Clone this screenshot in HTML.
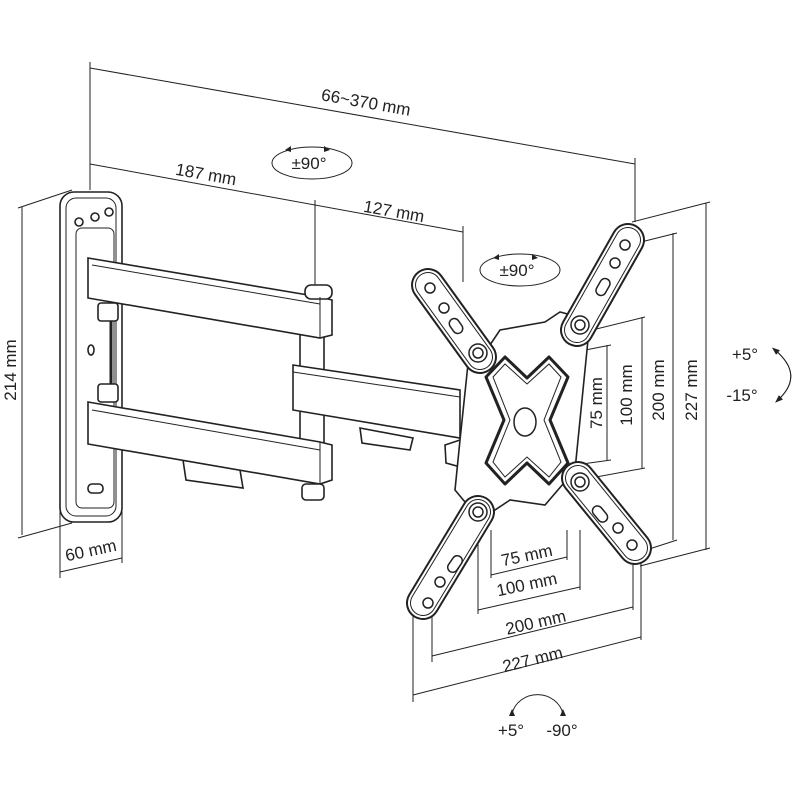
<!DOCTYPE html>
<html><head><meta charset="utf-8"><style>
html,body{margin:0;padding:0;background:#fff}
svg{display:block}
text{font-family:"Liberation Sans",sans-serif;fill:#222}
</style></head><body>
<svg width="800" height="800" viewBox="0 0 800 800" xmlns="http://www.w3.org/2000/svg">
<defs>
<marker id="ah" markerWidth="8" markerHeight="8" refX="4" refY="4" orient="auto"><path d="M0,1 L8,4 L0,7 Z" fill="#222"/></marker>
</defs>
<g stroke="#222" stroke-width="1" fill="none">
<line x1="90" y1="62" x2="90" y2="190"/>
<line x1="90" y1="68" x2="635" y2="164"/>
<line x1="635" y1="158" x2="635" y2="222"/>
<line x1="90" y1="164" x2="463" y2="232"/>
<line x1="315" y1="200" x2="315" y2="290"/>
<line x1="463" y1="226" x2="463" y2="282"/>
<line x1="22" y1="207" x2="22" y2="535"/>
<line x1="18" y1="208" x2="72" y2="190"/>
<line x1="18" y1="538" x2="72" y2="523"/>
<line x1="60" y1="510" x2="60" y2="578"/>
<line x1="122" y1="500" x2="122" y2="563"/>
<line x1="60" y1="572" x2="122" y2="558"/>
<line x1="706" y1="203" x2="706" y2="550"/>
<line x1="632" y1="222" x2="710" y2="202"/>
<line x1="640" y1="566" x2="710" y2="548"/>
<line x1="673" y1="233" x2="673" y2="540"/>
<line x1="637" y1="243" x2="677" y2="233"/>
<line x1="640" y1="552" x2="677" y2="540"/>
<line x1="642" y1="317" x2="642" y2="468"/>
<line x1="580" y1="333" x2="645" y2="317"/>
<line x1="580" y1="480" x2="645" y2="468"/>
<line x1="607" y1="345" x2="607" y2="460"/>
<line x1="575" y1="352" x2="611" y2="345"/>
<line x1="575" y1="465" x2="611" y2="460"/>
<line x1="491" y1="530" x2="491" y2="578"/><line x1="567" y1="530" x2="567" y2="560"/>
<line x1="491" y1="575" x2="567" y2="557"/>
<line x1="478" y1="525" x2="478" y2="614"/><line x1="580" y1="530" x2="580" y2="590"/>
<line x1="478" y1="610" x2="580" y2="587"/>
<line x1="432" y1="600" x2="432" y2="662"/><line x1="633" y1="560" x2="633" y2="610"/>
<line x1="432" y1="656" x2="633" y2="607"/>
<line x1="413" y1="595" x2="413" y2="702"/><line x1="641" y1="560" x2="641" y2="640"/>
<line x1="413" y1="695" x2="641" y2="637"/>
<ellipse cx="312" cy="163" rx="40" ry="16"/>
<ellipse cx="520" cy="270" rx="40" ry="16"/>
<path d="M775,350 Q805,375 778,400" marker-end="url(#ah)"/>
<path d="M778,400 Q805,375 775,350" marker-end="url(#ah)"/>
<path d="M512,714 A26,24 0 0 1 563,714" />
</g>
<g fill="#222">
<path d="M509,716 l3,-7 l3,7z"/><path d="M560,716 l3,-7 l3,7z"/>
<path d="M285,150 l6,-4 l0,6z"/><path d="M330,150 l-6,-4 l0,6z"/>
<path d="M493,258 l6,-4 l0,6z"/><path d="M538,258 l-6,-4 l0,6z"/>
</g>

<g stroke="#222" fill="#fff" stroke-width="1.6">
<rect x="60" y="192" width="62" height="330" rx="14"/>
<rect x="66" y="198" width="50" height="318" rx="10" stroke-width="1"/>
<rect x="76" y="228" width="38" height="280" rx="6" stroke-width="1"/>
<circle cx="79" cy="222" r="4"/><circle cx="95" cy="217" r="4"/><circle cx="109" cy="212" r="4"/>
<rect x="88" y="484" width="15" height="9" rx="4"/>
<line x1="111" y1="300" x2="111" y2="400" stroke-width="3"/>
<rect x="98" y="303" width="20" height="18" rx="3"/>
<rect x="98" y="384" width="20" height="18" rx="3"/>
<ellipse cx="91" cy="350" rx="3" ry="5"/>
<rect x="300" y="330" width="24" height="120"/>
<path d="M183,460 L240,470 L243,488 L186,480 Z"/>
<path d="M360,428 L413,438 L410,450 L362,443 Z"/>
<path d="M88,258 L320,297 L332,300 L332,335 L320,338 L88,298 Z"/>
<rect x="305" y="285" width="27" height="14" rx="6"/>
<line x1="92" y1="265" x2="320" y2="304" stroke-width="1"/>
<line x1="320" y1="297" x2="320" y2="338" stroke-width="1"/>
<path d="M88,402 L320,442 L332,445 L332,480 L320,484 L88,444 Z"/>
<line x1="92" y1="410" x2="320" y2="450" stroke-width="1"/>
<line x1="320" y1="442" x2="320" y2="484" stroke-width="1"/>
<rect x="302" y="484" width="22" height="16" rx="4"/>
<path d="M293,365 L460,390 L460,438 L293,410 Z"/>
<line x1="293" y1="372" x2="460" y2="397" stroke-width="1"/>
<path d="M445,445 l15,-5 l12,10 l-8,18 l-18,-5z"/>
</g>

<g stroke="#222" fill="#fff" stroke-linecap="round">
<path d="M470,345 L490,345 L500,330 L545,322 L560,312 L590,320 L575,470 L545,505 L510,500 L480,520 L455,490 L460,440 Z" stroke-width="1.6"/>
<g stroke-width="34"><line x1="428" y1="285" x2="480" y2="357"/><line x1="628" y1="240" x2="577" y2="330"/><line x1="635" y1="548" x2="578" y2="478"/><line x1="423" y1="603" x2="478" y2="512"/></g>
<g stroke-width="30" stroke="#fff"><line x1="428" y1="285" x2="480" y2="357"/><line x1="628" y1="240" x2="577" y2="330"/><line x1="635" y1="548" x2="578" y2="478"/><line x1="423" y1="603" x2="478" y2="512"/></g>
<g stroke-width="26" stroke="#222"><line x1="428" y1="285" x2="480" y2="357"/><line x1="628" y1="240" x2="577" y2="330"/><line x1="635" y1="548" x2="578" y2="478"/><line x1="423" y1="603" x2="478" y2="512"/></g>
<g stroke-width="24" stroke="#fff"><line x1="428" y1="285" x2="480" y2="357"/><line x1="628" y1="240" x2="577" y2="330"/><line x1="635" y1="548" x2="578" y2="478"/><line x1="423" y1="603" x2="478" y2="512"/></g>
<g stroke-width="1.5" fill="#fff">
<circle cx="430" cy="288" r="5"/><circle cx="444" cy="308" r="5"/><rect x="451" y="318" width="10" height="16" rx="5" transform="rotate(-35 456 326)"/><circle cx="478" cy="353" r="9"/><circle cx="478" cy="353" r="5"/>
<circle cx="625" cy="245" r="5"/><circle cx="615" cy="263" r="5"/><rect x="598" y="278" width="10" height="18" rx="5" transform="rotate(30 603 287)"/><circle cx="580" cy="325" r="9"/><circle cx="580" cy="325" r="5"/>
<circle cx="632" cy="545" r="5"/><circle cx="618" cy="528" r="5"/><rect x="595" y="505" width="10" height="18" rx="5" transform="rotate(-40 600 514)"/><circle cx="580" cy="482" r="9"/><circle cx="580" cy="482" r="5"/>
<circle cx="428" cy="603" r="5"/><circle cx="440" cy="582" r="5"/><rect x="450" y="555" width="10" height="18" rx="5" transform="rotate(35 455 564)"/><circle cx="478" cy="512" r="9"/><circle cx="478" cy="512" r="5"/>
</g>
<path d="M505,357 L527,378 L549,357 L568,377 L550,420 L568,463 L549,484 L527,463 L505,484 L486,463 L504,420 L486,377 Z" fill="#fff" stroke-width="3" stroke-linejoin="round"/>
<path d="M505,364 L527,384 L549,364 L561,377 L544,420 L561,462 L549,477 L527,457 L505,477 L493,462 L510,420 L493,377 Z" fill="none" stroke-width="1"/>
<ellipse cx="525" cy="422" rx="11" ry="14" fill="#fff" stroke-width="1.5"/>
</g>

<g font-size="17">
<text x="365" y="108" text-anchor="middle" transform="rotate(10 365 108)">66~370 mm</text>
<text x="205" y="180" text-anchor="middle" transform="rotate(10 205 180)">187 mm</text>
<text x="393" y="217" text-anchor="middle" transform="rotate(10 393 217)">127 mm</text>
<text x="309" y="169" text-anchor="middle">±90°</text>
<text x="517" y="276" text-anchor="middle">±90°</text>
<text x="16" y="370" text-anchor="middle" transform="rotate(-90 16 370)">214 mm</text>
<text x="92" y="556" text-anchor="middle" transform="rotate(-12 92 556)">60 mm</text>
<text x="602" y="403" text-anchor="middle" transform="rotate(-90 602 403)">75 mm</text>
<text x="632" y="395" text-anchor="middle" transform="rotate(-90 632 395)">100 mm</text>
<text x="664" y="390" text-anchor="middle" transform="rotate(-90 664 390)">200 mm</text>
<text x="697" y="390" text-anchor="middle" transform="rotate(-90 697 390)">227 mm</text>
<text x="745" y="360" text-anchor="middle">+5°</text>
<text x="742" y="401" text-anchor="middle">-15°</text>
<text x="528" y="561" text-anchor="middle" transform="rotate(-12 528 561)">75 mm</text>
<text x="528" y="590" text-anchor="middle" transform="rotate(-12 528 590)">100 mm</text>
<text x="537" y="628" text-anchor="middle" transform="rotate(-13 537 628)">200 mm</text>
<text x="534" y="665" text-anchor="middle" transform="rotate(-14 534 665)">227 mm</text>
<text x="511" y="736" text-anchor="middle">+5°</text>
<text x="562" y="736" text-anchor="middle">-90°</text>
</g>
</svg>
</body></html>
